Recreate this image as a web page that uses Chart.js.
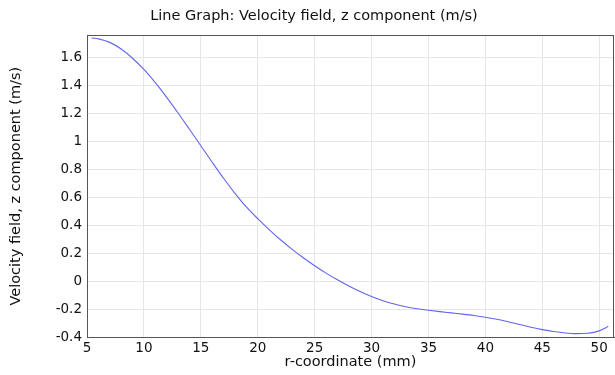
<!DOCTYPE html>
<html>
<head>
<meta charset="utf-8">
<script src="https://cdn.jsdelivr.net/npm/chart.js@4/dist/chart.umd.min.js"></script>
<style>
  html, body { margin: 0; padding: 0; background: #ffffff; }
  #contenedor { width: 615px; height: 375px; }
</style>
</head>
<body>
<div id="contenedor"><canvas id="miGrafico"></canvas></div>
<script>
// Datos
const rCoord = [5.4, 6, 7, 8, 9, 10, 11, 12, 13, 14, 15, 16, 17, 18, 19, 20,
    21, 22, 23, 24, 25, 26, 27, 28, 29, 30, 31, 32, 33, 34, 35, 36, 37, 38,
    39, 40, 41, 42, 43, 44, 45, 46, 47, 48, 49, 49.5, 50, 50.5, 50.8];
const velZ = [1.743, 1.737, 1.712, 1.664, 1.598, 1.518, 1.423, 1.318, 1.206,
    1.089, 0.971, 0.853, 0.738, 0.63, 0.532, 0.448, 0.37, 0.297, 0.23, 0.168,
    0.111, 0.058, 0.01, -0.034, -0.074, -0.11, -0.14, -0.164, -0.183, -0.197,
    -0.208, -0.218, -0.227, -0.236, -0.246, -0.258, -0.273, -0.291, -0.311,
    -0.33, -0.347, -0.361, -0.371, -0.376, -0.373, -0.367, -0.356, -0.338, -0.322];

// Etiquetas de los ejes
const ticksX = [5, 10, 15, 20, 25, 30, 35, 40, 45, 50];
const ticksY = [-0.4, -0.2, 0, 0.2, 0.4, 0.6, 0.8, 1, 1.2, 1.4, 1.6];

const puntos = rCoord.map(function (r, i) {
    return { x: r, y: velZ[i] };
});

// Marco alrededor del area de la grafica + titulo un poco a la derecha
const marco = {
    id: 'marco',
    afterLayout: function (chart) {
        if (chart.titleBlock) {
            chart.titleBlock.left += 14;
        }
    },
    afterDraw: function (chart) {
        const a = chart.chartArea;
        const ctx = chart.ctx;
        ctx.save();
        ctx.strokeStyle = '#555555';
        ctx.lineWidth = 1;
        ctx.strokeRect(Math.round(a.left) + 0.5, Math.round(a.top) + 0.5,
            Math.round(a.right - a.left) - 1, Math.round(a.bottom - a.top));
        ctx.restore();
    }
};

const fuente = 'DejaVu Sans';

new Chart(document.getElementById('miGrafico').getContext('2d'), {
    type: 'line',
    data: {
        datasets: [{
            data: puntos,
            borderColor: 'rgb(100, 100, 235)',
            borderWidth: 1.1,
            pointRadius: 0,
            cubicInterpolationMode: 'monotone',
            fill: false
        }]
    },
    options: {
        responsive: true,
        maintainAspectRatio: false,
        animation: false,
        layout: { padding: { left: 0, right: 1, top: 0, bottom: 0 } },
        plugins: {
            legend: { display: false },
            tooltip: { enabled: false },
            title: {
                display: true,
                text: 'Line Graph: Velocity field, z component (m/s)',
                color: '#111111',
                font: { family: fuente, size: 14.5, weight: 'normal', lineHeight: 1.2 },
                padding: { top: 8, bottom: 10 }
            }
        },
        scales: {
            x: {
                type: 'linear',
                min: 5,
                max: 51.3,
                afterBuildTicks: function (scale) {
                    scale.ticks = ticksX.map(function (v) { return { value: v }; });
                },
                afterFit: function (scale) { scale.height = 38; },
                grid: { color: '#e6e6e6', drawTicks: false },
                border: { color: '#555555' },
                ticks: {
                    color: '#111111',
                    padding: 3,
                    maxRotation: 0,
                    font: { family: fuente, size: 13.5 }
                },
                title: {
                    display: true,
                    text: 'r-coordinate (mm)',
                    color: '#111111',
                    padding: { top: 0, bottom: 4 },
                    font: { family: fuente, size: 14.5 }
                }
            },
            y: {
                type: 'linear',
                min: -0.4,
                max: 1.762,
                afterBuildTicks: function (scale) {
                    scale.ticks = ticksY.map(function (v) { return { value: v }; });
                },
                afterFit: function (scale) { scale.width = 87; },
                grid: { color: '#e6e6e6', drawTicks: false },
                border: { color: '#555555' },
                ticks: {
                    color: '#111111',
                    padding: 5,
                    font: { family: fuente, size: 13.5 },
                    callback: function (v) { return String(Math.round(v * 10) / 10); }
                },
                title: {
                    display: true,
                    text: 'Velocity field, z component (m/s)',
                    color: '#111111',
                    padding: { top: 8, bottom: 0 },
                    font: { family: fuente, size: 14.5 }
                }
            }
        }
    },
    plugins: [marco]
});
</script>
</body>
</html>
